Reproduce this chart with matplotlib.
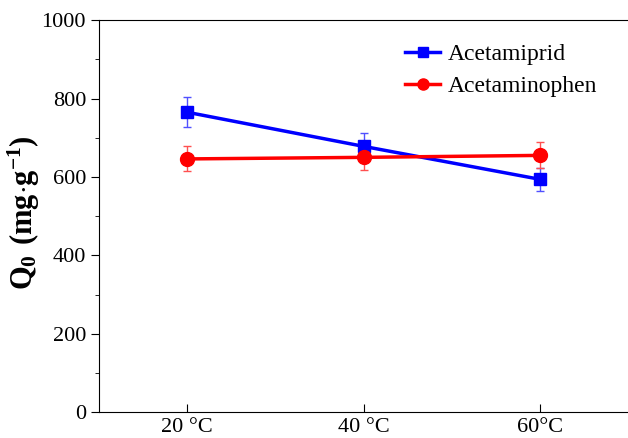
import matplotlib.pyplot as plt
import numpy as np

plt.rcParams['font.family'] = 'Liberation Serif'
plt.rcParams['mathtext.fontset'] = 'custom'
plt.rcParams['mathtext.rm'] = 'Liberation Serif'
plt.rcParams['mathtext.bf'] = 'Liberation Serif:bold'

temps = ['20 °C', '40 °C', '60°C']
acetamiprid = [765, 678, 594]
acetamiprid_err = [38, 35, 30]
acetaminophen = [646, 650, 655]
acetaminophen_err = [32, 33, 33]

x = np.arange(1, len(temps) + 1)

fig = plt.figure(figsize=(6.28, 4.38), dpi=100)
ax = fig.add_axes([0.158, 0.059, 0.842, 0.895])

eb1 = ax.errorbar(x, acetamiprid, yerr=acetamiprid_err, color='#0000ff', marker='s',
                  markersize=9, linewidth=2.5, elinewidth=1, capsize=3, ecolor='#5050ff')
eb2 = ax.errorbar(x, acetaminophen, yerr=acetaminophen_err, color='#ff0000', marker='o',
                  markersize=10, linewidth=2.5, elinewidth=1, capsize=3, ecolor='#ff5050')

ax.set_xlim(0.5, 3.5)
ax.set_ylim(0, 1000)
ax.set_xticks(x)
ax.set_xticklabels(temps)
ax.set_yticks(np.arange(0, 1001, 200))
ax.set_yticks(np.arange(100, 1000, 200), minor=True)
ax.tick_params(axis='y', which='major', direction='out', length=6, labelsize=16)
ax.tick_params(axis='y', which='minor', direction='out', length=3)
ax.tick_params(axis='x', direction='in', length=6, labelsize=16, pad=4)
ax.spines['right'].set_visible(False)

ax.set_ylabel(r'$\mathbf{Q_0\ (mg{\cdot}g^{-1})}$', fontsize=22)
ax.yaxis.set_label_coords(-0.108, 0.51)

ax.legend([eb1[0], eb2[0]], ['Acetamiprid', 'Acetaminophen'],
          loc='upper left', bbox_to_anchor=(0.538, 0.995), frameon=False, fontsize=17,
          handlelength=1.5, handletextpad=0.3, labelspacing=0.45, markerscale=0.8)

fig.savefig('out.png', dpi=100)
